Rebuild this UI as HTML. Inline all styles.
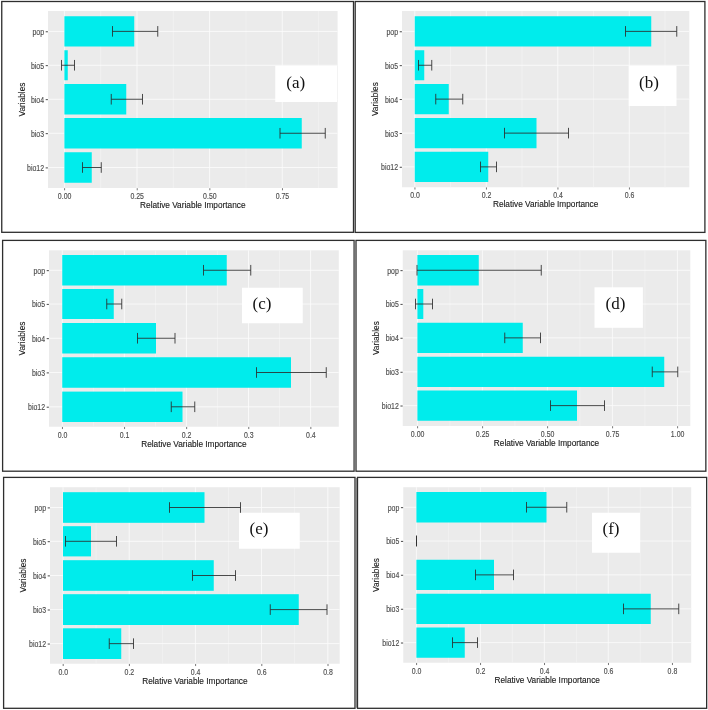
<!DOCTYPE html>
<html lang="en"><head><meta charset="utf-8"><title>Relative Variable Importance</title>
<style>
html,body{margin:0;padding:0;background:#fff;}
body{width:708px;height:710px;overflow:hidden;}
svg{display:block;}
</style></head><body>
<svg width="708" height="710" viewBox="0 0 708 710">
<rect width="708" height="710" fill="#fff"/>
<g id="panel-a">
<rect x="1.75" y="1.5" width="351.75" height="230.8" fill="#fff" stroke="#2e2e2e" stroke-width="1.3"/>
<rect x="48" y="11" width="289.6" height="177" fill="#ebebeb"/>
<line x1="100.71" x2="100.71" y1="11" y2="188" stroke="#f4f4f4" stroke-width="0.7"/>
<line x1="173.34" x2="173.34" y1="11" y2="188" stroke="#f4f4f4" stroke-width="0.7"/>
<line x1="245.96" x2="245.96" y1="11" y2="188" stroke="#f4f4f4" stroke-width="0.7"/>
<line x1="318.59" x2="318.59" y1="11" y2="188" stroke="#f4f4f4" stroke-width="0.7"/>
<line x1="64.4" x2="64.4" y1="11" y2="188" stroke="#fbfbfb" stroke-width="0.85"/>
<line x1="137.03" x2="137.03" y1="11" y2="188" stroke="#fbfbfb" stroke-width="0.85"/>
<line x1="209.65" x2="209.65" y1="11" y2="188" stroke="#fbfbfb" stroke-width="0.85"/>
<line x1="282.27" x2="282.27" y1="11" y2="188" stroke="#fbfbfb" stroke-width="0.85"/>
<line x1="48" x2="337.6" y1="31.38" y2="31.38" stroke="#fbfbfb" stroke-width="0.85"/>
<line x1="48" x2="337.6" y1="65.25" y2="65.25" stroke="#fbfbfb" stroke-width="0.85"/>
<line x1="48" x2="337.6" y1="99.25" y2="99.25" stroke="#fbfbfb" stroke-width="0.85"/>
<line x1="48" x2="337.6" y1="133.25" y2="133.25" stroke="#fbfbfb" stroke-width="0.85"/>
<line x1="48" x2="337.6" y1="167.5" y2="167.5" stroke="#fbfbfb" stroke-width="0.85"/>
<rect x="64.4" y="16.25" width="69.85" height="30.25" fill="#00ecec"/>
<rect x="64.4" y="50.25" width="3.35" height="30" fill="#00ecec"/>
<rect x="64.4" y="84" width="61.85" height="30.5" fill="#00ecec"/>
<rect x="64.4" y="118" width="237.35" height="30.5" fill="#00ecec"/>
<rect x="64.4" y="152.25" width="27.35" height="30.5" fill="#00ecec"/>
<rect x="275.25" y="65.75" width="61.75" height="36.25" fill="#fff"/>
<text x="295.75" y="87.75" font-family='"Liberation Serif", "Times New Roman", serif' font-size="17" text-anchor="middle" fill="#111">(a)</text>
<path d="M112.5 26.07V36.67M157.75 26.07V36.67M112.5 31.38H157.75" stroke="#2c2c2c" stroke-width="0.85" fill="none"/>
<path d="M61.5 59.95V70.55M74.5 59.95V70.55M61.5 65.25H74.5" stroke="#2c2c2c" stroke-width="0.85" fill="none"/>
<path d="M111.25 93.95V104.55M142.5 93.95V104.55M111.25 99.25H142.5" stroke="#2c2c2c" stroke-width="0.85" fill="none"/>
<path d="M280 127.95V138.55M325.25 127.95V138.55M280 133.25H325.25" stroke="#2c2c2c" stroke-width="0.85" fill="none"/>
<path d="M82.5 162.2V172.8M101.25 162.2V172.8M82.5 167.5H101.25" stroke="#2c2c2c" stroke-width="0.85" fill="none"/>
<line x1="45.7" x2="47.9" y1="31.77" y2="31.77" stroke="#333" stroke-width="0.9"/>
<text transform="translate(44 34.77) scale(1 1.2)" font-family='"Liberation Sans", Arial, sans-serif' font-size="6.95" text-anchor="end" fill="#4d4d4d" stroke="#4d4d4d" stroke-width="0.12">pop</text>
<line x1="45.7" x2="47.9" y1="65.65" y2="65.65" stroke="#333" stroke-width="0.9"/>
<text transform="translate(44 68.65) scale(1 1.2)" font-family='"Liberation Sans", Arial, sans-serif' font-size="6.95" text-anchor="end" fill="#4d4d4d" stroke="#4d4d4d" stroke-width="0.12">bio5</text>
<line x1="45.7" x2="47.9" y1="99.65" y2="99.65" stroke="#333" stroke-width="0.9"/>
<text transform="translate(44 102.65) scale(1 1.2)" font-family='"Liberation Sans", Arial, sans-serif' font-size="6.95" text-anchor="end" fill="#4d4d4d" stroke="#4d4d4d" stroke-width="0.12">bio4</text>
<line x1="45.7" x2="47.9" y1="133.65" y2="133.65" stroke="#333" stroke-width="0.9"/>
<text transform="translate(44 136.65) scale(1 1.2)" font-family='"Liberation Sans", Arial, sans-serif' font-size="6.95" text-anchor="end" fill="#4d4d4d" stroke="#4d4d4d" stroke-width="0.12">bio3</text>
<line x1="45.7" x2="47.9" y1="167.9" y2="167.9" stroke="#333" stroke-width="0.9"/>
<text transform="translate(44 170.9) scale(1 1.2)" font-family='"Liberation Sans", Arial, sans-serif' font-size="6.95" text-anchor="end" fill="#4d4d4d" stroke="#4d4d4d" stroke-width="0.12">bio12</text>
<line x1="64.6" x2="64.6" y1="188.2" y2="190.3" stroke="#555" stroke-width="0.8"/>
<text transform="translate(64.6 198.75) scale(1 1.2)" font-family='"Liberation Sans", Arial, sans-serif' font-size="6.95" text-anchor="middle" fill="#4d4d4d" stroke="#4d4d4d" stroke-width="0.12">0.00</text>
<line x1="137.22" x2="137.22" y1="188.2" y2="190.3" stroke="#555" stroke-width="0.8"/>
<text transform="translate(137.22 198.75) scale(1 1.2)" font-family='"Liberation Sans", Arial, sans-serif' font-size="6.95" text-anchor="middle" fill="#4d4d4d" stroke="#4d4d4d" stroke-width="0.12">0.25</text>
<line x1="209.85" x2="209.85" y1="188.2" y2="190.3" stroke="#555" stroke-width="0.8"/>
<text transform="translate(209.85 198.75) scale(1 1.2)" font-family='"Liberation Sans", Arial, sans-serif' font-size="6.95" text-anchor="middle" fill="#4d4d4d" stroke="#4d4d4d" stroke-width="0.12">0.50</text>
<line x1="282.47" x2="282.47" y1="188.2" y2="190.3" stroke="#555" stroke-width="0.8"/>
<text transform="translate(282.47 198.75) scale(1 1.2)" font-family='"Liberation Sans", Arial, sans-serif' font-size="6.95" text-anchor="middle" fill="#4d4d4d" stroke="#4d4d4d" stroke-width="0.12">0.75</text>
<text transform="translate(192.8 208) scale(1 1.16)" font-family='"Liberation Sans", Arial, sans-serif' font-size="8.27" text-anchor="middle" fill="#1a1a1a" stroke="#1a1a1a" stroke-width="0.12">Relative Variable Importance</text>
<text transform="translate(24.5 99.5) rotate(-90)" font-family='"Liberation Sans", Arial, sans-serif' font-size="8.27" text-anchor="middle" fill="#1a1a1a" stroke="#1a1a1a" stroke-width="0.12">Variables</text>
</g>
<g id="panel-b">
<rect x="355.2" y="1.5" width="349.7" height="230.9" fill="#fff" stroke="#2e2e2e" stroke-width="1.3"/>
<rect x="402" y="11" width="287.3" height="176.25" fill="#ebebeb"/>
<line x1="450.5" x2="450.5" y1="11" y2="187.25" stroke="#f4f4f4" stroke-width="0.7"/>
<line x1="522" x2="522" y1="11" y2="187.25" stroke="#f4f4f4" stroke-width="0.7"/>
<line x1="593.5" x2="593.5" y1="11" y2="187.25" stroke="#f4f4f4" stroke-width="0.7"/>
<line x1="665" x2="665" y1="11" y2="187.25" stroke="#f4f4f4" stroke-width="0.7"/>
<line x1="414.75" x2="414.75" y1="11" y2="187.25" stroke="#fbfbfb" stroke-width="0.85"/>
<line x1="486.25" x2="486.25" y1="11" y2="187.25" stroke="#fbfbfb" stroke-width="0.85"/>
<line x1="557.75" x2="557.75" y1="11" y2="187.25" stroke="#fbfbfb" stroke-width="0.85"/>
<line x1="629.25" x2="629.25" y1="11" y2="187.25" stroke="#fbfbfb" stroke-width="0.85"/>
<line x1="402" x2="689.3" y1="31.38" y2="31.38" stroke="#fbfbfb" stroke-width="0.85"/>
<line x1="402" x2="689.3" y1="65.25" y2="65.25" stroke="#fbfbfb" stroke-width="0.85"/>
<line x1="402" x2="689.3" y1="99.12" y2="99.12" stroke="#fbfbfb" stroke-width="0.85"/>
<line x1="402" x2="689.3" y1="133.12" y2="133.12" stroke="#fbfbfb" stroke-width="0.85"/>
<line x1="402" x2="689.3" y1="166.88" y2="166.88" stroke="#fbfbfb" stroke-width="0.85"/>
<rect x="414.75" y="16.25" width="236.5" height="30.25" fill="#00ecec"/>
<rect x="414.75" y="50.25" width="9.5" height="30" fill="#00ecec"/>
<rect x="414.75" y="84" width="34" height="30.25" fill="#00ecec"/>
<rect x="414.75" y="118" width="121.75" height="30.25" fill="#00ecec"/>
<rect x="414.75" y="151.75" width="73.5" height="30.25" fill="#00ecec"/>
<rect x="628.75" y="65.75" width="47.75" height="40.25" fill="#fff"/>
<text x="649" y="87.75" font-family='"Liberation Serif", "Times New Roman", serif' font-size="17" text-anchor="middle" fill="#111">(b)</text>
<path d="M625.5 26.07V36.67M676.75 26.07V36.67M625.5 31.38H676.75" stroke="#2c2c2c" stroke-width="0.85" fill="none"/>
<path d="M418.5 59.95V70.55M431.75 59.95V70.55M418.5 65.25H431.75" stroke="#2c2c2c" stroke-width="0.85" fill="none"/>
<path d="M435.75 93.83V104.42M462.75 93.83V104.42M435.75 99.12H462.75" stroke="#2c2c2c" stroke-width="0.85" fill="none"/>
<path d="M504.5 127.83V138.43M568.5 127.83V138.43M504.5 133.12H568.5" stroke="#2c2c2c" stroke-width="0.85" fill="none"/>
<path d="M480.5 161.57V172.18M496.5 161.57V172.18M480.5 166.88H496.5" stroke="#2c2c2c" stroke-width="0.85" fill="none"/>
<line x1="399.7" x2="401.9" y1="31.77" y2="31.77" stroke="#333" stroke-width="0.9"/>
<text transform="translate(398 34.77) scale(1 1.2)" font-family='"Liberation Sans", Arial, sans-serif' font-size="6.95" text-anchor="end" fill="#4d4d4d" stroke="#4d4d4d" stroke-width="0.12">pop</text>
<line x1="399.7" x2="401.9" y1="65.65" y2="65.65" stroke="#333" stroke-width="0.9"/>
<text transform="translate(398 68.65) scale(1 1.2)" font-family='"Liberation Sans", Arial, sans-serif' font-size="6.95" text-anchor="end" fill="#4d4d4d" stroke="#4d4d4d" stroke-width="0.12">bio5</text>
<line x1="399.7" x2="401.9" y1="99.53" y2="99.53" stroke="#333" stroke-width="0.9"/>
<text transform="translate(398 102.53) scale(1 1.2)" font-family='"Liberation Sans", Arial, sans-serif' font-size="6.95" text-anchor="end" fill="#4d4d4d" stroke="#4d4d4d" stroke-width="0.12">bio4</text>
<line x1="399.7" x2="401.9" y1="133.53" y2="133.53" stroke="#333" stroke-width="0.9"/>
<text transform="translate(398 136.53) scale(1 1.2)" font-family='"Liberation Sans", Arial, sans-serif' font-size="6.95" text-anchor="end" fill="#4d4d4d" stroke="#4d4d4d" stroke-width="0.12">bio3</text>
<line x1="399.7" x2="401.9" y1="167.28" y2="167.28" stroke="#333" stroke-width="0.9"/>
<text transform="translate(398 170.28) scale(1 1.2)" font-family='"Liberation Sans", Arial, sans-serif' font-size="6.95" text-anchor="end" fill="#4d4d4d" stroke="#4d4d4d" stroke-width="0.12">bio12</text>
<line x1="414.95" x2="414.95" y1="187.45" y2="189.55" stroke="#555" stroke-width="0.8"/>
<text transform="translate(414.95 198) scale(1 1.2)" font-family='"Liberation Sans", Arial, sans-serif' font-size="6.95" text-anchor="middle" fill="#4d4d4d" stroke="#4d4d4d" stroke-width="0.12">0.0</text>
<line x1="486.45" x2="486.45" y1="187.45" y2="189.55" stroke="#555" stroke-width="0.8"/>
<text transform="translate(486.45 198) scale(1 1.2)" font-family='"Liberation Sans", Arial, sans-serif' font-size="6.95" text-anchor="middle" fill="#4d4d4d" stroke="#4d4d4d" stroke-width="0.12">0.2</text>
<line x1="557.95" x2="557.95" y1="187.45" y2="189.55" stroke="#555" stroke-width="0.8"/>
<text transform="translate(557.95 198) scale(1 1.2)" font-family='"Liberation Sans", Arial, sans-serif' font-size="6.95" text-anchor="middle" fill="#4d4d4d" stroke="#4d4d4d" stroke-width="0.12">0.4</text>
<line x1="629.45" x2="629.45" y1="187.45" y2="189.55" stroke="#555" stroke-width="0.8"/>
<text transform="translate(629.45 198) scale(1 1.2)" font-family='"Liberation Sans", Arial, sans-serif' font-size="6.95" text-anchor="middle" fill="#4d4d4d" stroke="#4d4d4d" stroke-width="0.12">0.6</text>
<text transform="translate(545.65 207) scale(1 1.16)" font-family='"Liberation Sans", Arial, sans-serif' font-size="8.27" text-anchor="middle" fill="#1a1a1a" stroke="#1a1a1a" stroke-width="0.12">Relative Variable Importance</text>
<text transform="translate(378 99.12) rotate(-90)" font-family='"Liberation Sans", Arial, sans-serif' font-size="8.27" text-anchor="middle" fill="#1a1a1a" stroke="#1a1a1a" stroke-width="0.12">Variables</text>
</g>
<g id="panel-c">
<rect x="2.6" y="240.4" width="351.5" height="230.8" fill="#fff" stroke="#2e2e2e" stroke-width="1.3"/>
<rect x="49" y="250.3" width="289.8" height="176.45" fill="#ebebeb"/>
<line x1="93.3" x2="93.3" y1="250.3" y2="426.75" stroke="#f4f4f4" stroke-width="0.7"/>
<line x1="155.4" x2="155.4" y1="250.3" y2="426.75" stroke="#f4f4f4" stroke-width="0.7"/>
<line x1="217.5" x2="217.5" y1="250.3" y2="426.75" stroke="#f4f4f4" stroke-width="0.7"/>
<line x1="279.6" x2="279.6" y1="250.3" y2="426.75" stroke="#f4f4f4" stroke-width="0.7"/>
<line x1="62.25" x2="62.25" y1="250.3" y2="426.75" stroke="#fbfbfb" stroke-width="0.85"/>
<line x1="124.35" x2="124.35" y1="250.3" y2="426.75" stroke="#fbfbfb" stroke-width="0.85"/>
<line x1="186.45" x2="186.45" y1="250.3" y2="426.75" stroke="#fbfbfb" stroke-width="0.85"/>
<line x1="248.55" x2="248.55" y1="250.3" y2="426.75" stroke="#fbfbfb" stroke-width="0.85"/>
<line x1="310.65" x2="310.65" y1="250.3" y2="426.75" stroke="#fbfbfb" stroke-width="0.85"/>
<line x1="49" x2="338.8" y1="270.25" y2="270.25" stroke="#fbfbfb" stroke-width="0.85"/>
<line x1="49" x2="338.8" y1="304" y2="304" stroke="#fbfbfb" stroke-width="0.85"/>
<line x1="49" x2="338.8" y1="338.25" y2="338.25" stroke="#fbfbfb" stroke-width="0.85"/>
<line x1="49" x2="338.8" y1="372.5" y2="372.5" stroke="#fbfbfb" stroke-width="0.85"/>
<line x1="49" x2="338.8" y1="406.8" y2="406.8" stroke="#fbfbfb" stroke-width="0.85"/>
<rect x="62.25" y="255" width="164.5" height="30.5" fill="#00ecec"/>
<rect x="62.25" y="289" width="51.5" height="30" fill="#00ecec"/>
<rect x="62.25" y="323" width="93.75" height="30.5" fill="#00ecec"/>
<rect x="62.25" y="357.25" width="228.75" height="30.5" fill="#00ecec"/>
<rect x="62.25" y="391.6" width="120.25" height="30.4" fill="#00ecec"/>
<rect x="242" y="287.75" width="60.75" height="35.5" fill="#fff"/>
<text x="262" y="308.5" font-family='"Liberation Serif", "Times New Roman", serif' font-size="17" text-anchor="middle" fill="#111">(c)</text>
<path d="M203.5 264.95V275.55M250.75 264.95V275.55M203.5 270.25H250.75" stroke="#2c2c2c" stroke-width="0.85" fill="none"/>
<path d="M106.75 298.7V309.3M121.75 298.7V309.3M106.75 304H121.75" stroke="#2c2c2c" stroke-width="0.85" fill="none"/>
<path d="M137.5 332.95V343.55M175 332.95V343.55M137.5 338.25H175" stroke="#2c2c2c" stroke-width="0.85" fill="none"/>
<path d="M256.5 367.2V377.8M326.25 367.2V377.8M256.5 372.5H326.25" stroke="#2c2c2c" stroke-width="0.85" fill="none"/>
<path d="M171.25 401.5V412.1M194.75 401.5V412.1M171.25 406.8H194.75" stroke="#2c2c2c" stroke-width="0.85" fill="none"/>
<line x1="46.7" x2="48.9" y1="270.65" y2="270.65" stroke="#333" stroke-width="0.9"/>
<text transform="translate(45 273.65) scale(1 1.2)" font-family='"Liberation Sans", Arial, sans-serif' font-size="6.95" text-anchor="end" fill="#4d4d4d" stroke="#4d4d4d" stroke-width="0.12">pop</text>
<line x1="46.7" x2="48.9" y1="304.4" y2="304.4" stroke="#333" stroke-width="0.9"/>
<text transform="translate(45 307.4) scale(1 1.2)" font-family='"Liberation Sans", Arial, sans-serif' font-size="6.95" text-anchor="end" fill="#4d4d4d" stroke="#4d4d4d" stroke-width="0.12">bio5</text>
<line x1="46.7" x2="48.9" y1="338.65" y2="338.65" stroke="#333" stroke-width="0.9"/>
<text transform="translate(45 341.65) scale(1 1.2)" font-family='"Liberation Sans", Arial, sans-serif' font-size="6.95" text-anchor="end" fill="#4d4d4d" stroke="#4d4d4d" stroke-width="0.12">bio4</text>
<line x1="46.7" x2="48.9" y1="372.9" y2="372.9" stroke="#333" stroke-width="0.9"/>
<text transform="translate(45 375.9) scale(1 1.2)" font-family='"Liberation Sans", Arial, sans-serif' font-size="6.95" text-anchor="end" fill="#4d4d4d" stroke="#4d4d4d" stroke-width="0.12">bio3</text>
<line x1="46.7" x2="48.9" y1="407.2" y2="407.2" stroke="#333" stroke-width="0.9"/>
<text transform="translate(45 410.2) scale(1 1.2)" font-family='"Liberation Sans", Arial, sans-serif' font-size="6.95" text-anchor="end" fill="#4d4d4d" stroke="#4d4d4d" stroke-width="0.12">bio12</text>
<line x1="62.45" x2="62.45" y1="426.95" y2="429.05" stroke="#555" stroke-width="0.8"/>
<text transform="translate(62.45 437.5) scale(1 1.2)" font-family='"Liberation Sans", Arial, sans-serif' font-size="6.95" text-anchor="middle" fill="#4d4d4d" stroke="#4d4d4d" stroke-width="0.12">0.0</text>
<line x1="124.55" x2="124.55" y1="426.95" y2="429.05" stroke="#555" stroke-width="0.8"/>
<text transform="translate(124.55 437.5) scale(1 1.2)" font-family='"Liberation Sans", Arial, sans-serif' font-size="6.95" text-anchor="middle" fill="#4d4d4d" stroke="#4d4d4d" stroke-width="0.12">0.1</text>
<line x1="186.65" x2="186.65" y1="426.95" y2="429.05" stroke="#555" stroke-width="0.8"/>
<text transform="translate(186.65 437.5) scale(1 1.2)" font-family='"Liberation Sans", Arial, sans-serif' font-size="6.95" text-anchor="middle" fill="#4d4d4d" stroke="#4d4d4d" stroke-width="0.12">0.2</text>
<line x1="248.75" x2="248.75" y1="426.95" y2="429.05" stroke="#555" stroke-width="0.8"/>
<text transform="translate(248.75 437.5) scale(1 1.2)" font-family='"Liberation Sans", Arial, sans-serif' font-size="6.95" text-anchor="middle" fill="#4d4d4d" stroke="#4d4d4d" stroke-width="0.12">0.3</text>
<line x1="310.85" x2="310.85" y1="426.95" y2="429.05" stroke="#555" stroke-width="0.8"/>
<text transform="translate(310.85 437.5) scale(1 1.2)" font-family='"Liberation Sans", Arial, sans-serif' font-size="6.95" text-anchor="middle" fill="#4d4d4d" stroke="#4d4d4d" stroke-width="0.12">0.4</text>
<text transform="translate(193.9 446.75) scale(1 1.16)" font-family='"Liberation Sans", Arial, sans-serif' font-size="8.27" text-anchor="middle" fill="#1a1a1a" stroke="#1a1a1a" stroke-width="0.12">Relative Variable Importance</text>
<text transform="translate(24.5 338.52) rotate(-90)" font-family='"Liberation Sans", Arial, sans-serif' font-size="8.27" text-anchor="middle" fill="#1a1a1a" stroke="#1a1a1a" stroke-width="0.12">Variables</text>
</g>
<g id="panel-d">
<rect x="356" y="240.4" width="349.85" height="230.8" fill="#fff" stroke="#2e2e2e" stroke-width="1.3"/>
<rect x="402.75" y="250.3" width="287.55" height="175.7" fill="#ebebeb"/>
<line x1="449.9" x2="449.9" y1="250.3" y2="426" stroke="#f4f4f4" stroke-width="0.7"/>
<line x1="514.9" x2="514.9" y1="250.3" y2="426" stroke="#f4f4f4" stroke-width="0.7"/>
<line x1="579.9" x2="579.9" y1="250.3" y2="426" stroke="#f4f4f4" stroke-width="0.7"/>
<line x1="644.9" x2="644.9" y1="250.3" y2="426" stroke="#f4f4f4" stroke-width="0.7"/>
<line x1="417.4" x2="417.4" y1="250.3" y2="426" stroke="#fbfbfb" stroke-width="0.85"/>
<line x1="482.4" x2="482.4" y1="250.3" y2="426" stroke="#fbfbfb" stroke-width="0.85"/>
<line x1="547.4" x2="547.4" y1="250.3" y2="426" stroke="#fbfbfb" stroke-width="0.85"/>
<line x1="612.4" x2="612.4" y1="250.3" y2="426" stroke="#fbfbfb" stroke-width="0.85"/>
<line x1="677.4" x2="677.4" y1="250.3" y2="426" stroke="#fbfbfb" stroke-width="0.85"/>
<line x1="402.75" x2="690.3" y1="270.25" y2="270.25" stroke="#fbfbfb" stroke-width="0.85"/>
<line x1="402.75" x2="690.3" y1="304" y2="304" stroke="#fbfbfb" stroke-width="0.85"/>
<line x1="402.75" x2="690.3" y1="337.88" y2="337.88" stroke="#fbfbfb" stroke-width="0.85"/>
<line x1="402.75" x2="690.3" y1="371.88" y2="371.88" stroke="#fbfbfb" stroke-width="0.85"/>
<line x1="402.75" x2="690.3" y1="405.62" y2="405.62" stroke="#fbfbfb" stroke-width="0.85"/>
<rect x="417.4" y="255" width="61.35" height="30.5" fill="#00ecec"/>
<rect x="417.4" y="289" width="5.9" height="30" fill="#00ecec"/>
<rect x="417.4" y="322.75" width="105.35" height="30.25" fill="#00ecec"/>
<rect x="417.4" y="356.75" width="246.85" height="30.25" fill="#00ecec"/>
<rect x="417.4" y="390.5" width="159.6" height="30.25" fill="#00ecec"/>
<rect x="594.5" y="287.3" width="48.4" height="40.5" fill="#fff"/>
<text x="615.5" y="308.75" font-family='"Liberation Serif", "Times New Roman", serif' font-size="17" text-anchor="middle" fill="#111">(d)</text>
<path d="M417 264.95V275.55M541.25 264.95V275.55M417 270.25H541.25" stroke="#2c2c2c" stroke-width="0.85" fill="none"/>
<path d="M415.5 298.7V309.3M432.5 298.7V309.3M415.5 304H432.5" stroke="#2c2c2c" stroke-width="0.85" fill="none"/>
<path d="M504.75 332.57V343.18M540.5 332.57V343.18M504.75 337.88H540.5" stroke="#2c2c2c" stroke-width="0.85" fill="none"/>
<path d="M652.25 366.57V377.18M677.75 366.57V377.18M652.25 371.88H677.75" stroke="#2c2c2c" stroke-width="0.85" fill="none"/>
<path d="M550.5 400.32V410.93M604.5 400.32V410.93M550.5 405.62H604.5" stroke="#2c2c2c" stroke-width="0.85" fill="none"/>
<line x1="400.45" x2="402.65" y1="270.65" y2="270.65" stroke="#333" stroke-width="0.9"/>
<text transform="translate(398.75 273.65) scale(1 1.2)" font-family='"Liberation Sans", Arial, sans-serif' font-size="6.95" text-anchor="end" fill="#4d4d4d" stroke="#4d4d4d" stroke-width="0.12">pop</text>
<line x1="400.45" x2="402.65" y1="304.4" y2="304.4" stroke="#333" stroke-width="0.9"/>
<text transform="translate(398.75 307.4) scale(1 1.2)" font-family='"Liberation Sans", Arial, sans-serif' font-size="6.95" text-anchor="end" fill="#4d4d4d" stroke="#4d4d4d" stroke-width="0.12">bio5</text>
<line x1="400.45" x2="402.65" y1="338.27" y2="338.27" stroke="#333" stroke-width="0.9"/>
<text transform="translate(398.75 341.27) scale(1 1.2)" font-family='"Liberation Sans", Arial, sans-serif' font-size="6.95" text-anchor="end" fill="#4d4d4d" stroke="#4d4d4d" stroke-width="0.12">bio4</text>
<line x1="400.45" x2="402.65" y1="372.27" y2="372.27" stroke="#333" stroke-width="0.9"/>
<text transform="translate(398.75 375.27) scale(1 1.2)" font-family='"Liberation Sans", Arial, sans-serif' font-size="6.95" text-anchor="end" fill="#4d4d4d" stroke="#4d4d4d" stroke-width="0.12">bio3</text>
<line x1="400.45" x2="402.65" y1="406.02" y2="406.02" stroke="#333" stroke-width="0.9"/>
<text transform="translate(398.75 409.02) scale(1 1.2)" font-family='"Liberation Sans", Arial, sans-serif' font-size="6.95" text-anchor="end" fill="#4d4d4d" stroke="#4d4d4d" stroke-width="0.12">bio12</text>
<line x1="417.6" x2="417.6" y1="426.2" y2="428.3" stroke="#555" stroke-width="0.8"/>
<text transform="translate(417.6 436.75) scale(1 1.2)" font-family='"Liberation Sans", Arial, sans-serif' font-size="6.95" text-anchor="middle" fill="#4d4d4d" stroke="#4d4d4d" stroke-width="0.12">0.00</text>
<line x1="482.6" x2="482.6" y1="426.2" y2="428.3" stroke="#555" stroke-width="0.8"/>
<text transform="translate(482.6 436.75) scale(1 1.2)" font-family='"Liberation Sans", Arial, sans-serif' font-size="6.95" text-anchor="middle" fill="#4d4d4d" stroke="#4d4d4d" stroke-width="0.12">0.25</text>
<line x1="547.6" x2="547.6" y1="426.2" y2="428.3" stroke="#555" stroke-width="0.8"/>
<text transform="translate(547.6 436.75) scale(1 1.2)" font-family='"Liberation Sans", Arial, sans-serif' font-size="6.95" text-anchor="middle" fill="#4d4d4d" stroke="#4d4d4d" stroke-width="0.12">0.50</text>
<line x1="612.6" x2="612.6" y1="426.2" y2="428.3" stroke="#555" stroke-width="0.8"/>
<text transform="translate(612.6 436.75) scale(1 1.2)" font-family='"Liberation Sans", Arial, sans-serif' font-size="6.95" text-anchor="middle" fill="#4d4d4d" stroke="#4d4d4d" stroke-width="0.12">0.75</text>
<line x1="677.6" x2="677.6" y1="426.2" y2="428.3" stroke="#555" stroke-width="0.8"/>
<text transform="translate(677.6 436.75) scale(1 1.2)" font-family='"Liberation Sans", Arial, sans-serif' font-size="6.95" text-anchor="middle" fill="#4d4d4d" stroke="#4d4d4d" stroke-width="0.12">1.00</text>
<text transform="translate(546.52 445.75) scale(1 1.16)" font-family='"Liberation Sans", Arial, sans-serif' font-size="8.27" text-anchor="middle" fill="#1a1a1a" stroke="#1a1a1a" stroke-width="0.12">Relative Variable Importance</text>
<text transform="translate(378.5 338.15) rotate(-90)" font-family='"Liberation Sans", Arial, sans-serif' font-size="8.27" text-anchor="middle" fill="#1a1a1a" stroke="#1a1a1a" stroke-width="0.12">Variables</text>
</g>
<g id="panel-e">
<rect x="3.6" y="477.4" width="351.4" height="230.9" fill="#fff" stroke="#2e2e2e" stroke-width="1.3"/>
<rect x="50" y="487.2" width="289.7" height="176.55" fill="#ebebeb"/>
<line x1="96.1" x2="96.1" y1="487.2" y2="663.75" stroke="#f4f4f4" stroke-width="0.7"/>
<line x1="162.3" x2="162.3" y1="487.2" y2="663.75" stroke="#f4f4f4" stroke-width="0.7"/>
<line x1="228.5" x2="228.5" y1="487.2" y2="663.75" stroke="#f4f4f4" stroke-width="0.7"/>
<line x1="294.7" x2="294.7" y1="487.2" y2="663.75" stroke="#f4f4f4" stroke-width="0.7"/>
<line x1="63" x2="63" y1="487.2" y2="663.75" stroke="#fbfbfb" stroke-width="0.85"/>
<line x1="129.2" x2="129.2" y1="487.2" y2="663.75" stroke="#fbfbfb" stroke-width="0.85"/>
<line x1="195.4" x2="195.4" y1="487.2" y2="663.75" stroke="#fbfbfb" stroke-width="0.85"/>
<line x1="261.6" x2="261.6" y1="487.2" y2="663.75" stroke="#fbfbfb" stroke-width="0.85"/>
<line x1="327.8" x2="327.8" y1="487.2" y2="663.75" stroke="#fbfbfb" stroke-width="0.85"/>
<line x1="50" x2="339.7" y1="507.5" y2="507.5" stroke="#fbfbfb" stroke-width="0.85"/>
<line x1="50" x2="339.7" y1="541.3" y2="541.3" stroke="#fbfbfb" stroke-width="0.85"/>
<line x1="50" x2="339.7" y1="575.5" y2="575.5" stroke="#fbfbfb" stroke-width="0.85"/>
<line x1="50" x2="339.7" y1="609.6" y2="609.6" stroke="#fbfbfb" stroke-width="0.85"/>
<line x1="50" x2="339.7" y1="643.65" y2="643.65" stroke="#fbfbfb" stroke-width="0.85"/>
<rect x="63" y="492.2" width="141.5" height="30.6" fill="#00ecec"/>
<rect x="63" y="526.2" width="28" height="30.2" fill="#00ecec"/>
<rect x="63" y="560.2" width="150.75" height="30.6" fill="#00ecec"/>
<rect x="63" y="594.2" width="235.75" height="30.8" fill="#00ecec"/>
<rect x="63" y="628.3" width="58.25" height="30.7" fill="#00ecec"/>
<rect x="239" y="512.75" width="60.75" height="36" fill="#fff"/>
<text x="259" y="533.75" font-family='"Liberation Serif", "Times New Roman", serif' font-size="17" text-anchor="middle" fill="#111">(e)</text>
<path d="M169.5 502.2V512.8M240.5 502.2V512.8M169.5 507.5H240.5" stroke="#2c2c2c" stroke-width="0.85" fill="none"/>
<path d="M65.5 536V546.6M116.5 536V546.6M65.5 541.3H116.5" stroke="#2c2c2c" stroke-width="0.85" fill="none"/>
<path d="M192.5 570.2V580.8M235.5 570.2V580.8M192.5 575.5H235.5" stroke="#2c2c2c" stroke-width="0.85" fill="none"/>
<path d="M270.25 604.3V614.9M327 604.3V614.9M270.25 609.6H327" stroke="#2c2c2c" stroke-width="0.85" fill="none"/>
<path d="M109.25 638.35V648.95M133.5 638.35V648.95M109.25 643.65H133.5" stroke="#2c2c2c" stroke-width="0.85" fill="none"/>
<line x1="47.7" x2="49.9" y1="507.9" y2="507.9" stroke="#333" stroke-width="0.9"/>
<text transform="translate(46 510.9) scale(1 1.2)" font-family='"Liberation Sans", Arial, sans-serif' font-size="6.95" text-anchor="end" fill="#4d4d4d" stroke="#4d4d4d" stroke-width="0.12">pop</text>
<line x1="47.7" x2="49.9" y1="541.7" y2="541.7" stroke="#333" stroke-width="0.9"/>
<text transform="translate(46 544.7) scale(1 1.2)" font-family='"Liberation Sans", Arial, sans-serif' font-size="6.95" text-anchor="end" fill="#4d4d4d" stroke="#4d4d4d" stroke-width="0.12">bio5</text>
<line x1="47.7" x2="49.9" y1="575.9" y2="575.9" stroke="#333" stroke-width="0.9"/>
<text transform="translate(46 578.9) scale(1 1.2)" font-family='"Liberation Sans", Arial, sans-serif' font-size="6.95" text-anchor="end" fill="#4d4d4d" stroke="#4d4d4d" stroke-width="0.12">bio4</text>
<line x1="47.7" x2="49.9" y1="610" y2="610" stroke="#333" stroke-width="0.9"/>
<text transform="translate(46 613) scale(1 1.2)" font-family='"Liberation Sans", Arial, sans-serif' font-size="6.95" text-anchor="end" fill="#4d4d4d" stroke="#4d4d4d" stroke-width="0.12">bio3</text>
<line x1="47.7" x2="49.9" y1="644.05" y2="644.05" stroke="#333" stroke-width="0.9"/>
<text transform="translate(46 647.05) scale(1 1.2)" font-family='"Liberation Sans", Arial, sans-serif' font-size="6.95" text-anchor="end" fill="#4d4d4d" stroke="#4d4d4d" stroke-width="0.12">bio12</text>
<line x1="63.2" x2="63.2" y1="663.95" y2="666.05" stroke="#555" stroke-width="0.8"/>
<text transform="translate(63.2 674.5) scale(1 1.2)" font-family='"Liberation Sans", Arial, sans-serif' font-size="6.95" text-anchor="middle" fill="#4d4d4d" stroke="#4d4d4d" stroke-width="0.12">0.0</text>
<line x1="129.4" x2="129.4" y1="663.95" y2="666.05" stroke="#555" stroke-width="0.8"/>
<text transform="translate(129.4 674.5) scale(1 1.2)" font-family='"Liberation Sans", Arial, sans-serif' font-size="6.95" text-anchor="middle" fill="#4d4d4d" stroke="#4d4d4d" stroke-width="0.12">0.2</text>
<line x1="195.6" x2="195.6" y1="663.95" y2="666.05" stroke="#555" stroke-width="0.8"/>
<text transform="translate(195.6 674.5) scale(1 1.2)" font-family='"Liberation Sans", Arial, sans-serif' font-size="6.95" text-anchor="middle" fill="#4d4d4d" stroke="#4d4d4d" stroke-width="0.12">0.4</text>
<line x1="261.8" x2="261.8" y1="663.95" y2="666.05" stroke="#555" stroke-width="0.8"/>
<text transform="translate(261.8 674.5) scale(1 1.2)" font-family='"Liberation Sans", Arial, sans-serif' font-size="6.95" text-anchor="middle" fill="#4d4d4d" stroke="#4d4d4d" stroke-width="0.12">0.6</text>
<line x1="328" x2="328" y1="663.95" y2="666.05" stroke="#555" stroke-width="0.8"/>
<text transform="translate(328 674.5) scale(1 1.2)" font-family='"Liberation Sans", Arial, sans-serif' font-size="6.95" text-anchor="middle" fill="#4d4d4d" stroke="#4d4d4d" stroke-width="0.12">0.8</text>
<text transform="translate(194.85 684) scale(1 1.16)" font-family='"Liberation Sans", Arial, sans-serif' font-size="8.27" text-anchor="middle" fill="#1a1a1a" stroke="#1a1a1a" stroke-width="0.12">Relative Variable Importance</text>
<text transform="translate(25.5 575.48) rotate(-90)" font-family='"Liberation Sans", Arial, sans-serif' font-size="8.27" text-anchor="middle" fill="#1a1a1a" stroke="#1a1a1a" stroke-width="0.12">Variables</text>
</g>
<g id="panel-f">
<rect x="357.5" y="477.4" width="349.15" height="230.9" fill="#fff" stroke="#2e2e2e" stroke-width="1.3"/>
<rect x="403.25" y="487.2" width="287.95" height="175.55" fill="#ebebeb"/>
<line x1="448.38" x2="448.38" y1="487.2" y2="662.75" stroke="#f4f4f4" stroke-width="0.7"/>
<line x1="512.34" x2="512.34" y1="487.2" y2="662.75" stroke="#f4f4f4" stroke-width="0.7"/>
<line x1="576.3" x2="576.3" y1="487.2" y2="662.75" stroke="#f4f4f4" stroke-width="0.7"/>
<line x1="640.26" x2="640.26" y1="487.2" y2="662.75" stroke="#f4f4f4" stroke-width="0.7"/>
<line x1="416.4" x2="416.4" y1="487.2" y2="662.75" stroke="#fbfbfb" stroke-width="0.85"/>
<line x1="480.36" x2="480.36" y1="487.2" y2="662.75" stroke="#fbfbfb" stroke-width="0.85"/>
<line x1="544.32" x2="544.32" y1="487.2" y2="662.75" stroke="#fbfbfb" stroke-width="0.85"/>
<line x1="608.28" x2="608.28" y1="487.2" y2="662.75" stroke="#fbfbfb" stroke-width="0.85"/>
<line x1="672.24" x2="672.24" y1="487.2" y2="662.75" stroke="#fbfbfb" stroke-width="0.85"/>
<line x1="403.25" x2="691.2" y1="507.25" y2="507.25" stroke="#fbfbfb" stroke-width="0.85"/>
<line x1="403.25" x2="691.2" y1="541" y2="541" stroke="#fbfbfb" stroke-width="0.85"/>
<line x1="403.25" x2="691.2" y1="574.88" y2="574.88" stroke="#fbfbfb" stroke-width="0.85"/>
<line x1="403.25" x2="691.2" y1="608.88" y2="608.88" stroke="#fbfbfb" stroke-width="0.85"/>
<line x1="403.25" x2="691.2" y1="642.62" y2="642.62" stroke="#fbfbfb" stroke-width="0.85"/>
<rect x="416.4" y="492" width="130.1" height="30.5" fill="#00ecec"/>
<rect x="416.4" y="559.75" width="77.6" height="30.25" fill="#00ecec"/>
<rect x="416.4" y="593.75" width="234.35" height="30.25" fill="#00ecec"/>
<rect x="416.4" y="627.5" width="48.35" height="30.25" fill="#00ecec"/>
<rect x="592" y="512.75" width="48" height="40" fill="#fff"/>
<text x="611" y="533.75" font-family='"Liberation Serif", "Times New Roman", serif' font-size="17" text-anchor="middle" fill="#111">(f)</text>
<path d="M526.5 501.95V512.55M566.75 501.95V512.55M526.5 507.25H566.75" stroke="#2c2c2c" stroke-width="0.85" fill="none"/>
<path d="M416.5 535.7V546.3M416.5 535.7V546.3M416.5 541H416.5" stroke="#2c2c2c" stroke-width="0.85" fill="none"/>
<path d="M475.5 569.58V580.17M513.5 569.58V580.17M475.5 574.88H513.5" stroke="#2c2c2c" stroke-width="0.85" fill="none"/>
<path d="M623.5 603.58V614.17M678.75 603.58V614.17M623.5 608.88H678.75" stroke="#2c2c2c" stroke-width="0.85" fill="none"/>
<path d="M452.5 637.33V647.92M477.5 637.33V647.92M452.5 642.62H477.5" stroke="#2c2c2c" stroke-width="0.85" fill="none"/>
<line x1="400.95" x2="403.15" y1="507.65" y2="507.65" stroke="#333" stroke-width="0.9"/>
<text transform="translate(399.25 510.65) scale(1 1.2)" font-family='"Liberation Sans", Arial, sans-serif' font-size="6.95" text-anchor="end" fill="#4d4d4d" stroke="#4d4d4d" stroke-width="0.12">pop</text>
<line x1="400.95" x2="403.15" y1="541.4" y2="541.4" stroke="#333" stroke-width="0.9"/>
<text transform="translate(399.25 544.4) scale(1 1.2)" font-family='"Liberation Sans", Arial, sans-serif' font-size="6.95" text-anchor="end" fill="#4d4d4d" stroke="#4d4d4d" stroke-width="0.12">bio5</text>
<line x1="400.95" x2="403.15" y1="575.27" y2="575.27" stroke="#333" stroke-width="0.9"/>
<text transform="translate(399.25 578.27) scale(1 1.2)" font-family='"Liberation Sans", Arial, sans-serif' font-size="6.95" text-anchor="end" fill="#4d4d4d" stroke="#4d4d4d" stroke-width="0.12">bio4</text>
<line x1="400.95" x2="403.15" y1="609.27" y2="609.27" stroke="#333" stroke-width="0.9"/>
<text transform="translate(399.25 612.27) scale(1 1.2)" font-family='"Liberation Sans", Arial, sans-serif' font-size="6.95" text-anchor="end" fill="#4d4d4d" stroke="#4d4d4d" stroke-width="0.12">bio3</text>
<line x1="400.95" x2="403.15" y1="643.02" y2="643.02" stroke="#333" stroke-width="0.9"/>
<text transform="translate(399.25 646.02) scale(1 1.2)" font-family='"Liberation Sans", Arial, sans-serif' font-size="6.95" text-anchor="end" fill="#4d4d4d" stroke="#4d4d4d" stroke-width="0.12">bio12</text>
<line x1="416.6" x2="416.6" y1="662.95" y2="665.05" stroke="#555" stroke-width="0.8"/>
<text transform="translate(416.6 673.5) scale(1 1.2)" font-family='"Liberation Sans", Arial, sans-serif' font-size="6.95" text-anchor="middle" fill="#4d4d4d" stroke="#4d4d4d" stroke-width="0.12">0.0</text>
<line x1="480.56" x2="480.56" y1="662.95" y2="665.05" stroke="#555" stroke-width="0.8"/>
<text transform="translate(480.56 673.5) scale(1 1.2)" font-family='"Liberation Sans", Arial, sans-serif' font-size="6.95" text-anchor="middle" fill="#4d4d4d" stroke="#4d4d4d" stroke-width="0.12">0.2</text>
<line x1="544.52" x2="544.52" y1="662.95" y2="665.05" stroke="#555" stroke-width="0.8"/>
<text transform="translate(544.52 673.5) scale(1 1.2)" font-family='"Liberation Sans", Arial, sans-serif' font-size="6.95" text-anchor="middle" fill="#4d4d4d" stroke="#4d4d4d" stroke-width="0.12">0.4</text>
<line x1="608.48" x2="608.48" y1="662.95" y2="665.05" stroke="#555" stroke-width="0.8"/>
<text transform="translate(608.48 673.5) scale(1 1.2)" font-family='"Liberation Sans", Arial, sans-serif' font-size="6.95" text-anchor="middle" fill="#4d4d4d" stroke="#4d4d4d" stroke-width="0.12">0.6</text>
<line x1="672.44" x2="672.44" y1="662.95" y2="665.05" stroke="#555" stroke-width="0.8"/>
<text transform="translate(672.44 673.5) scale(1 1.2)" font-family='"Liberation Sans", Arial, sans-serif' font-size="6.95" text-anchor="middle" fill="#4d4d4d" stroke="#4d4d4d" stroke-width="0.12">0.8</text>
<text transform="translate(547.23 682.75) scale(1 1.16)" font-family='"Liberation Sans", Arial, sans-serif' font-size="8.27" text-anchor="middle" fill="#1a1a1a" stroke="#1a1a1a" stroke-width="0.12">Relative Variable Importance</text>
<text transform="translate(379 574.98) rotate(-90)" font-family='"Liberation Sans", Arial, sans-serif' font-size="8.27" text-anchor="middle" fill="#1a1a1a" stroke="#1a1a1a" stroke-width="0.12">Variables</text>
</g>
<g id="seams" stroke="#7a7a7a" stroke-width="1.3">
<line x1="355.05" x2="355.05" y1="241" y2="470.6"/>
<line x1="356.25" x2="356.25" y1="478" y2="707.7"/>
</g>
</svg>
</body></html>
